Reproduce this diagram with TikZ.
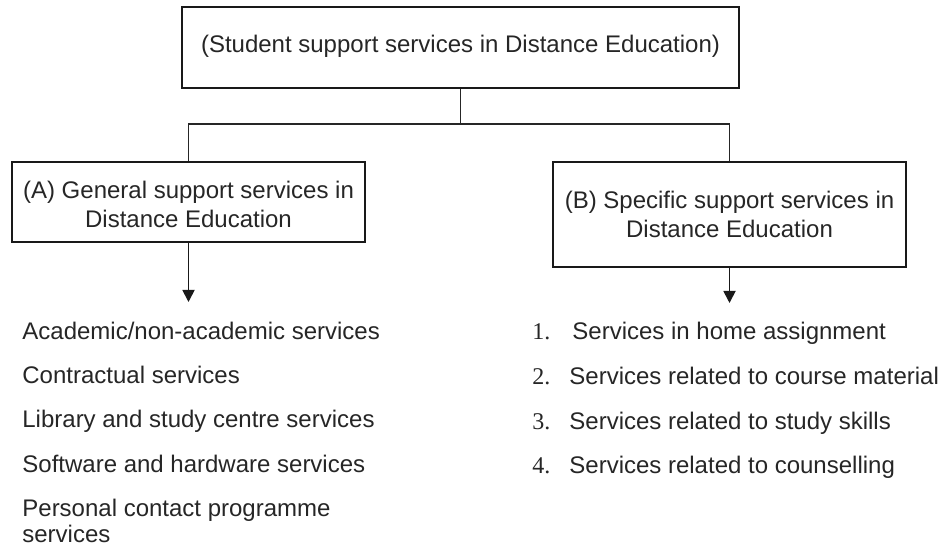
\documentclass[tikz,border=0pt]{standalone}
\usepackage{fontspec}
\setmainfont{Liberation Sans}
\newfontfamily\numfont{Liberation Serif}
\usetikzlibrary{arrows.meta}
\begin{document}
\begin{tikzpicture}[x=0.5pt,y=-0.5pt,
  box/.style={draw=black!90, line width=1.4pt, inner sep=0pt},
  boxtext/.style={anchor=base, inner sep=0pt, align=center,
    font=\fontsize{12}{14.5}\selectfont, text=black!85},
  conn/.style={draw=black!85, line width=0.6pt},
  arr/.style={draw=black!90, line width=0.9pt, -{Triangle[width=6pt,length=6pt]}},
  item/.style={anchor=base west, inner sep=0pt, align=left,
    font=\fontsize{12}{13}\selectfont, text=black!85},
  num/.style={anchor=base west, inner sep=0pt, font=\numfont\fontsize{12}{13}\selectfont, text=black!85}]
\useasboundingbox (0,0) rectangle (942,549);
% boxes
\node[box, minimum width=278.5pt, minimum height=40.5pt] (top) at (460.5,47.5) {};
\node[boxtext] (topT) at (460.5,53) {(Student support services in Distance Education)};
\node[box, minimum width=176.5pt, minimum height=40pt] (A) at (188.5,202) {};
\node[boxtext] (AT) at (188.5,228) {(A) General support services in\\Distance Education};
\node[box, minimum width=176.5pt, minimum height=52.5pt] (B) at (729.5,214.5) {};
\node[boxtext] (BT) at (729.5,238) {(B) Specific support services in\\Distance Education};
% connectors
\coordinate (j) at (460.5,124);
\draw[conn] (top.south) -- (j);
\draw[conn] (A.north) |- (j) -| (B.north);
\coordinate (Aend) at (188.5,302);
\coordinate (Bend) at (729.5,303);
\draw[arr] (A.south) -- (Aend);
\draw[arr] (B.south) -- (Bend);
% left list
\node[item] (l1) at (22,340) {Academic/non-academic services};
\node[item] (l2) at (22,384) {Contractual services};
\node[item] (l3) at (22,428) {Library and study centre services};
\node[item] (l4) at (22,473) {Software and hardware services};
\node[item] (l5) at (22,543) {Personal contact programme\\services};
% right list
\node[num] (n1) at (532,340) {1.};
\node[num] (n2) at (532,385) {2.};
\node[num] (n3) at (532,430) {3.};
\node[num] (n4) at (532,474) {4.};
\node[item] (r1) at (572,340) {Services in home assignment};
\node[item] (r2) at (569,385) {Services related to course material};
\node[item] (r3) at (569,430) {Services related to study skills};
\node[item] (r4) at (569,474) {Services related to counselling};
\end{tikzpicture}
\end{document}
